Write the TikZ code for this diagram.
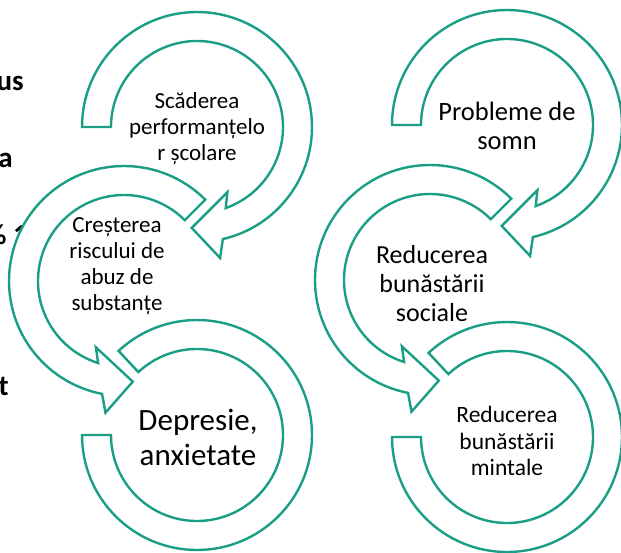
\documentclass[tikz,border=0pt]{standalone}
\usepackage{fontspec}
\setmainfont{Carlito}
\definecolor{loopgreen}{HTML}{1A9E86}

\newcommand{\Rout}{115}
\newcommand{\Rin}{86}
% loop with a head: center, tail angle, end angle, +1 ccw / -1 cw
\newcommand{\headloop}[4]{%
  \begin{scope}[shift={(#1)}]
    \filldraw[loop band] (#2:\Rout) arc[start angle=#2, end angle={#3+5*#4}, radius=\Rout]
      -- ({#3+8*#4}:133) -- ({#3+21*#4}:101) -- ({#3-7*#4}:72) -- ({#3-1.5*#4}:\Rin)
      arc[start angle={#3-1.5*#4}, end angle=#2, radius=\Rin] -- cycle;
  \end{scope}}
% loop without a head
\newcommand{\plainloop}[3]{%
  \begin{scope}[shift={(#1)}]
    \filldraw[loop band] (#2:\Rout) arc[start angle=#2, end angle=#3, radius=\Rout]
      -- (#3:\Rin) arc[start angle=#3, end angle=#2, radius=\Rin] -- cycle;
  \end{scope}}

\begin{document}
\begin{tikzpicture}[x=1pt,y=1pt]
  \tikzset{loop band/.style={draw=loopgreen,fill=white,line width=2.4pt,line join=miter},
    side text/.style={anchor=base east,inner sep=0pt,font=\fontsize{29}{34}\selectfont\bfseries},
    loop text/.style 2 args={align=center,inner sep=0pt,font=\fontsize{#1}{#2}\selectfont}}

  \useasboundingbox (0,0) rectangle (621,-552);
  \clip (0,0) rectangle (621,-552);

  \node[side text] (s1) at (24,-90) {us};
  \node[side text] (s2) at (13,-167) {a};
  \node[side text] (s3) at (28,-244) {\% 1};
  \node[side text] (s4) at (9,-395) {t};

  \coordinate (L1) at (197,-127);
  \coordinate (L2) at (124,-281);
  \coordinate (L3) at (197,-435);
  \coordinate (R1) at (507,-125);
  \coordinate (R2) at (430,-280);
  \coordinate (R3) at (507,-437);

  \headloop{L1}{180}{-72}{-1}
  \headloop{L2}{45}{254}{1}
  \plainloop{L3}{180}{493}
  \headloop{R1}{180}{-72}{-1}
  \headloop{R2}{45}{254}{1}
  \plainloop{R3}{180}{493}

  \node[loop text={23}{26}] (scad) at (197,-129) {Scăderea\\performanțelo\\r școlare};
  \node[loop text={23}{26}] (crest) at (117,-266) {Creșterea\\riscului de\\abuz de\\substanțe};
  \node[loop text={31}{35}] (depr) at (198,-437) {Depresie,\\anxietate};
  \node[loop text={26.5}{28.5}] (somn) at (507,-126) {Probleme de\\somn};
  \node[loop text={26}{29}] (soc) at (432,-284) {Reducerea\\bunăstării\\sociale};
  \node[loop text={23.5}{26.5}] (mint) at (507,-441) {Reducerea\\bunăstării\\mintale};
\end{tikzpicture}
\end{document}
